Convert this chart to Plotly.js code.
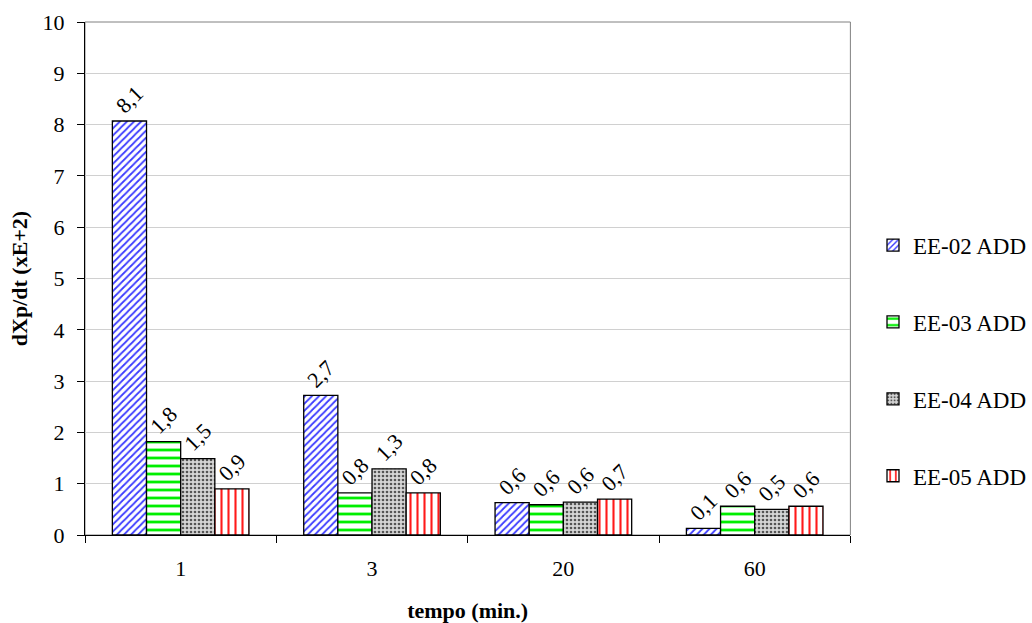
<!DOCTYPE html>
<html>
<head>
<meta charset="utf-8">
<script src="https://cdn.plot.ly/plotly-3.0.1.min.js"></script>
<style>
html,body{margin:0;padding:0;background:#fff;}
#chart{width:1032px;height:623px;}
</style>
</head>
<body>
<div id="chart"></div>
<script>
const categories = ["1", "3", "20", "60"];
const seriesNames = ["EE-02 ADD", "EE-03 ADD", "EE-04 ADD", "EE-05 ADD"];
const ee02 = [8.07, 2.72, 0.63, 0.13];
const ee03 = [1.82, 0.82, 0.59, 0.56];
const ee04 = [1.49, 1.29, 0.64, 0.50];
const ee05 = [0.90, 0.82, 0.70, 0.56];
const yTicks = [0,1,2,3,4,5,6,7,8,9,10];

const FONT = "Liberation Serif";
const values = [ee02, ee03, ee04, ee05];
const patterns = [
  {shape: "/", fgcolor: "#3a3aff", bgcolor: "#ffffff", size: 5, solidity: 0.35},
  {shape: "-", fgcolor: "#00ee00", bgcolor: "#ffffff", size: 8, solidity: 0.35},
  {shape: ".", fgcolor: "#555555", bgcolor: "#d6d6d6", size: 4, solidity: 0.35},
  {shape: "|", fgcolor: "#ff1a1a", bgcolor: "#ffffff", size: 7, solidity: 0.3}
];

const traces = values.map((v, i) => ({
  type: "bar",
  name: seriesNames[i],
  x: categories,
  y: v,
  legendgroup: "g" + i,
  marker: {
    color: patterns[i].bgcolor,
    line: {color: "#000000", width: 1.3},
    pattern: patterns[i]
  },
  texttemplate: "%{y:.1f}",
  textposition: "outside",
  textangle: -45,
  cliponaxis: false,
  textfont: {family: FONT, size: 22, color: "#000"},
  hoverinfo: "skip"
}));

const layout = {
  width: 1032,
  height: 623,
  separators: ",.",
  paper_bgcolor: "#ffffff",
  plot_bgcolor: "#ffffff",
  margin: {l: 85, r: 0, t: 22, b: 88, pad: 0},
  barmode: "group",
  bargap: 0.286,
  bargroupgap: 0,
  font: {family: FONT, size: 20, color: "#000"},
  showlegend: true,
  legend: {
    x: 0.8342, xanchor: "left",
    y: 0.34, yanchor: "middle",
    yref: "paper",
    traceorder: "grouped",
    tracegroupgap: 44,
    font: {family: FONT, size: 23, color: "#000"},
    bgcolor: "rgba(0,0,0,0)",
    itemwidth: 30
  },
  xaxis: {
    domain: [0, 0.80993],
    type: "category",
    tickson: "boundaries",
    ticks: "outside",
    ticklen: 7,
    tickcolor: "#000",
    showline: true,
    linecolor: "#000",
    linewidth: 1,
    showgrid: false,
    zeroline: false,
    tickfont: {family: FONT, size: 22, color: "#000"},
    ticklabelstandoff: 14,
    title: {text: "<b>tempo (min.)</b>", font: {family: FONT, size: 22, color: "#000"}, standoff: 22}
  },
  yaxis: {
    range: [0, 10],
    tickvals: yTicks,
    ticktext: yTicks.map(String),
    ticks: "outside",
    ticklen: 7,
    tickcolor: "#000",
    showline: true,
    linecolor: "#000",
    linewidth: 1,
    showgrid: true,
    gridcolor: "#d0d0d0",
    gridwidth: 1,
    zeroline: false,
    tickfont: {family: FONT, size: 22, color: "#000"},
    ticklabelstandoff: 8,
    title: {text: "<b>dXp/dt (xE+2)</b>", font: {family: FONT, size: 22, color: "#000"}, standoff: 8}
  },
  shapes: [{
    type: "rect", xref: "x domain", yref: "y domain", x0: 0, x1: 1, y0: 0, y1: 1,
    line: {color: "#808080", width: 1}, layer: "below"
  }]
};

Plotly.newPlot("chart", traces, layout, {displayModeBar: false, staticPlot: true});
</script>
</body>
</html>
